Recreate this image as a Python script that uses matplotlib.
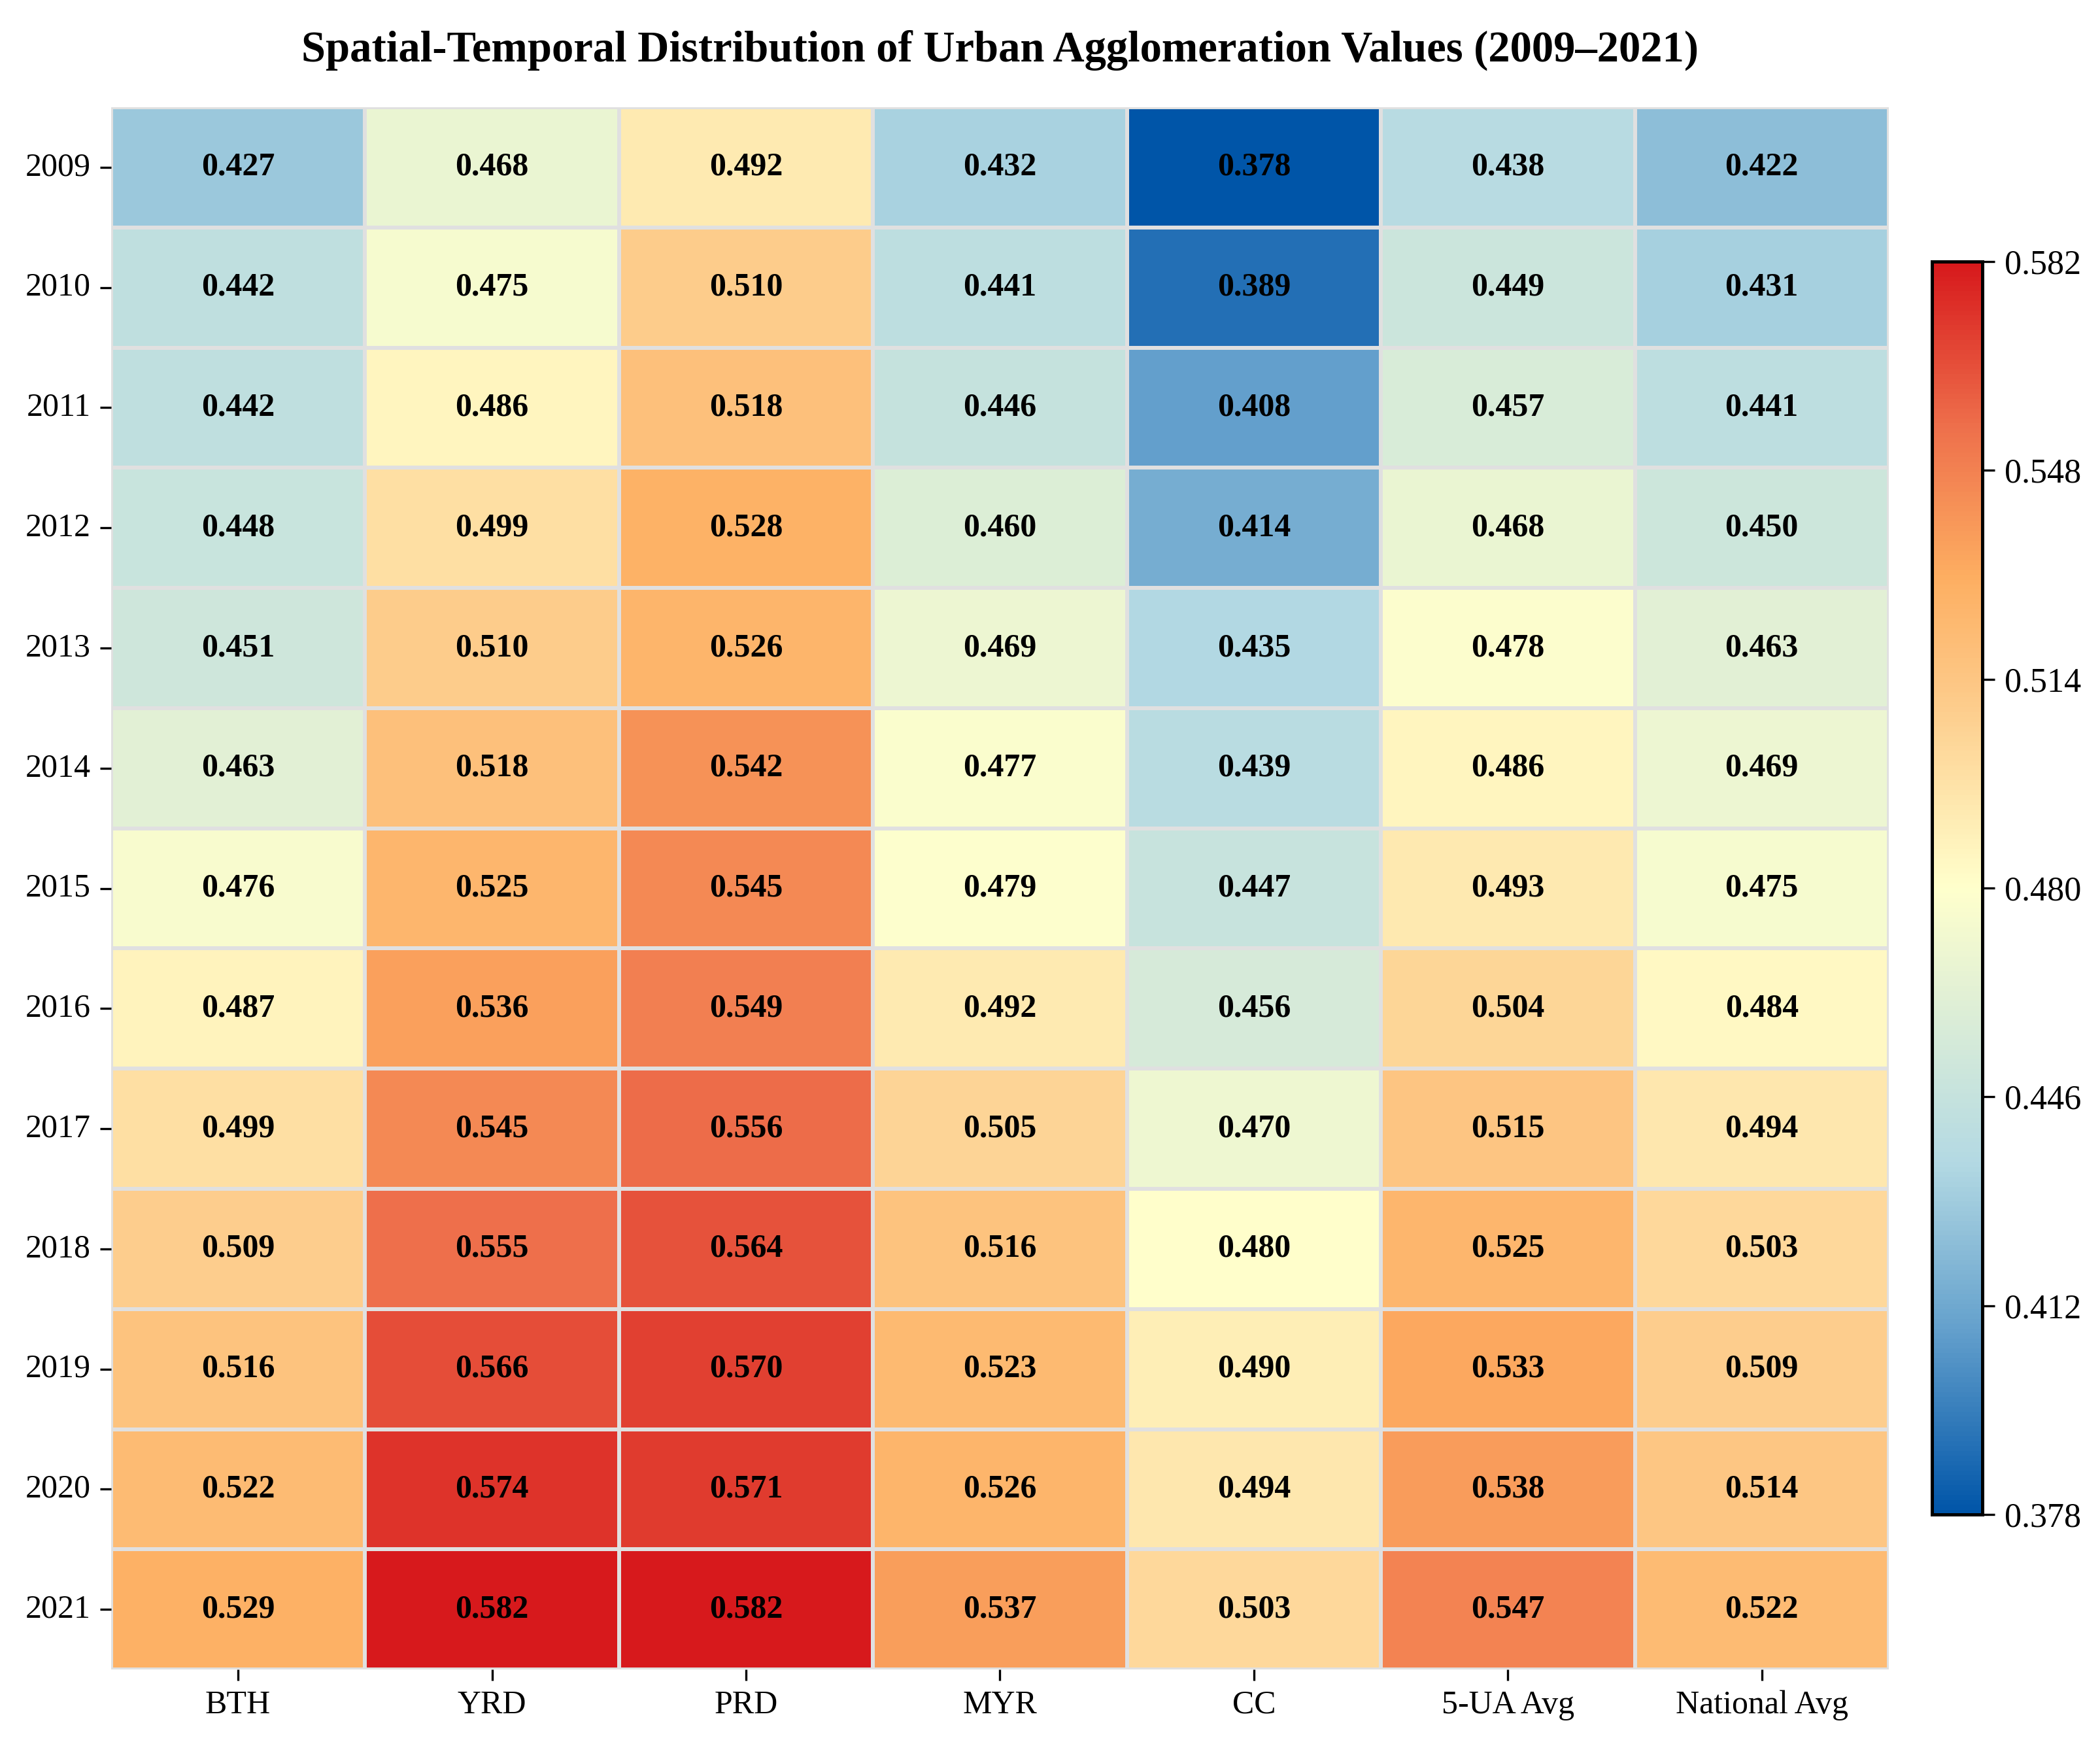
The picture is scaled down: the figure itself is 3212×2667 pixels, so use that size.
import numpy as np
import pandas as pd
import matplotlib
matplotlib.use("Agg")
import matplotlib.pyplot as plt
import seaborn as sns
from matplotlib.colors import LinearSegmentedColormap

regions = ['BTH', 'YRD', 'PRD', 'MYR', 'CC', '5-UA Avg', 'National Avg']
years = [str(y) for y in range(2009, 2022)]

bth = [0.427, 0.442, 0.442, 0.448, 0.451, 0.463, 0.476, 0.487, 0.499, 0.509, 0.516, 0.522, 0.529]
yrd = [0.468, 0.475, 0.486, 0.499, 0.510, 0.518, 0.525, 0.536, 0.545, 0.555, 0.566, 0.574, 0.582]
prd = [0.492, 0.510, 0.518, 0.528, 0.526, 0.542, 0.545, 0.549, 0.556, 0.564, 0.570, 0.571, 0.582]
myr = [0.432, 0.441, 0.446, 0.460, 0.469, 0.477, 0.479, 0.492, 0.505, 0.516, 0.523, 0.526, 0.537]
cc = [0.378, 0.389, 0.408, 0.414, 0.435, 0.439, 0.447, 0.456, 0.470, 0.480, 0.490, 0.494, 0.503]
ua_avg = [0.438, 0.449, 0.457, 0.468, 0.478, 0.486, 0.493, 0.504, 0.515, 0.525, 0.533, 0.538, 0.547]
nat_avg = [0.422, 0.431, 0.441, 0.450, 0.463, 0.469, 0.475, 0.484, 0.494, 0.503, 0.509, 0.514, 0.522]

df = pd.DataFrame(np.column_stack([bth, yrd, prd, myr, cc, ua_avg, nat_avg]),
                  index=years, columns=regions)

plt.rcParams['font.family'] = ['Liberation Serif', 'DejaVu Serif']

# colour ramp
cmap = LinearSegmentedColormap.from_list('ua', [
    (0.0, '#0055A8'), (0.15, '#66A2CD'), (0.28, '#B3D9E3'), (0.5, '#FFFFCC'),
    (0.65, '#FDCB8A'), (0.75, '#FDAE61'), (0.87, '#EE6F4B'), (1.0, '#D7191C')])

vmin, vmax = df.values.min(), df.values.max()

fig = plt.figure(figsize=(10.707, 8.89), dpi=300)
ax = fig.add_axes([0.0529, 0.0427, 0.8465, 0.8958])
cax = fig.add_axes([0.92, 0.1316, 0.024, 0.7184])

sns.heatmap(df, ax=ax, cbar_ax=cax, cmap=cmap, vmin=vmin, vmax=vmax,
            annot=True, fmt='.3f', linewidths=1.0, linecolor='#E0E0E0',
            annot_kws={'size': 12, 'weight': 'bold', 'color': 'black'})

ax.set_xlabel('')
ax.set_ylabel('')
ax.tick_params(axis='both', labelsize=12, length=4, width=0.8)
ax.set_yticklabels(years, rotation=0)
ax.set_xticklabels(regions, rotation=0)

cb = ax.collections[0].colorbar
cb.set_ticks(np.linspace(vmin, vmax, 7))
cb.ax.yaxis.set_major_formatter(plt.FormatStrFormatter('%.3f'))
cb.ax.tick_params(labelsize=12.5, length=4.5, width=0.8)
cb.outline.set_visible(True)
cb.outline.set_edgecolor('black')
cb.outline.set_linewidth(1.2)

ax.set_title('Spatial-Temporal Distribution of Urban Agglomeration Values (2009\u20132021)',
             fontsize=16, fontweight='bold', pad=17)

fig.savefig('out.png', dpi=300)
